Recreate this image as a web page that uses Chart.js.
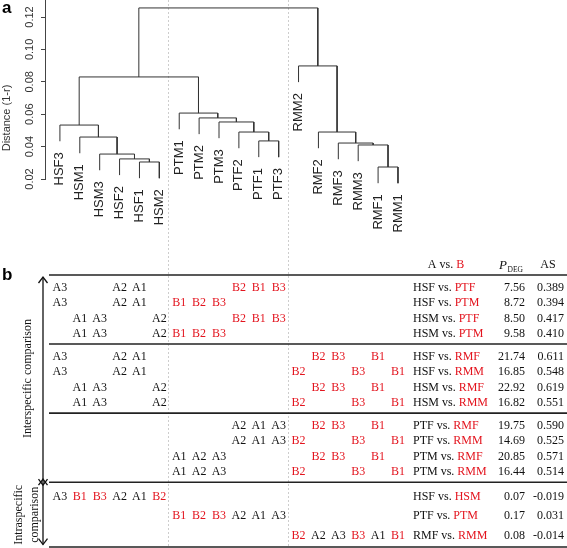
<!DOCTYPE html>
<html>
<head>
<meta charset="utf-8">
<script src="https://cdn.jsdelivr.net/npm/chart.js@4.4.1/dist/chart.umd.min.js"></script>
<style>
  html, body { margin: 0; padding: 0; background: #fff; }
  #wrap { position: relative; width: 567px; height: 548px; overflow: hidden; }
  #dendroChart { position: absolute; left: 0; top: 0; }
  #tableChart { position: absolute; left: 0; top: 240px; }
</style>
</head>
<body>
<div id="wrap">
  <canvas id="dendroChart" width="567" height="240"></canvas>
  <canvas id="tableChart" width="567" height="308"></canvas>
</div>
<script>
// ===== Panel a: hierarchical clustering =====
const leaves = ['HSF3', 'HSM1', 'HSM3', 'HSF2', 'HSF1', 'HSM2',
                'PTM1', 'PTM2', 'PTM3', 'PTF2', 'PTF1', 'PTF3',
                'RMM2', 'RMF2', 'RMF3', 'RMM3', 'RMF1', 'RMM1'];
// negative = leaf number, positive = earlier merge (R hclust style)
const mergeLeft   = [-5, -4, -3, -2, -1, -11, -10, -9, -8, -7, 5, -17, -16, -15, -14, -13, 11];
const mergeRight  = [-6,  1,  2,  3,  4, -12,   6,  7,  8,  9, 10, -18, 12, 13, 14, 15, 16];
const mergeHeight = [0.0305, 0.0324, 0.0354, 0.0459, 0.0533,
                     0.0435, 0.0490, 0.0552, 0.0577, 0.0607, 0.0830,
                     0.0274, 0.0410, 0.0422, 0.0490, 0.0898, 0.1256];
const yTicks = [0.02, 0.04, 0.06, 0.08, 0.10, 0.12];
const hang = 0.01;

// ===== Panel b: comparison table =====
const groupA = ['HSF', 'HSF', 'HSM', 'HSM', 'HSF', 'HSF', 'HSM', 'HSM',
                'PTF', 'PTF', 'PTM', 'PTM', 'HSF', 'PTF', 'RMF'];
const groupB = ['PTF', 'PTM', 'PTF', 'PTM', 'RMF', 'RMM', 'RMF', 'RMM',
                'RMF', 'RMM', 'RMF', 'RMM', 'HSM', 'PTM', 'RMM'];
const pDeg = [7.56, 8.72, 8.50, 9.58, 21.74, 16.85, 22.92, 16.82,
              19.75, 14.69, 20.85, 16.44, 0.07, 0.17, 0.08];
const asScore = [0.389, 0.394, 0.417, 0.410, 0.611, 0.548, 0.619, 0.551,
                 0.590, 0.525, 0.571, 0.514, -0.019, 0.031, -0.014];
const sectionSizes = [4, 4, 4, 3];

const RED = '#e3141e';
const INK = '#111';
const SANS = '"Liberation Sans", Arial, sans-serif';
const SERIF = '"Liberation Serif", "Times New Roman", serif';

// ----- dendrogram geometry from merges -----
const mergeX = [];
const leafParentH = new Array(leaves.length).fill(0);
const segments = [];
mergeHeight.forEach((h, k) => {
    const child = (c) => {
        if (c < 0) { leafParentH[-c - 1] = h; return { x: -c, y: h - hang }; }
        return { x: mergeX[c - 1], y: mergeHeight[c - 1] };
    };
    const l = child(mergeLeft[k]), r = child(mergeRight[k]);
    mergeX.push((l.x + r.x) / 2);
    segments.push([{ x: l.x, y: l.y }, { x: l.x, y: h }, { x: r.x, y: h }, { x: r.x, y: r.y }]);
});

// species boundaries (between leaf groups)
const speciesBreaks = [];
for (let i = 1; i < leaves.length; i++) {
    if (leaves[i].slice(0, 2) !== leaves[i - 1].slice(0, 2)) speciesBreaks.push(i + 0.5);
}

function drawSeparators(chart) {
    const { ctx } = chart;
    const xs = chart.scales.x;
    ctx.save();
    ctx.strokeStyle = '#cdcdcd';
    ctx.lineWidth = 1;
    ctx.setLineDash([2, 2]);
    speciesBreaks.forEach(v => {
        const px = Math.round(xs.getPixelForValue(v)) - 0.5;
        ctx.beginPath();
        ctx.moveTo(px, 0);
        ctx.lineTo(px, chart.height);
        ctx.stroke();
    });
    ctx.restore();
}

function rotText(ctx, text, x, y, align) {
    ctx.save();
    ctx.translate(x, y);
    ctx.rotate(-Math.PI / 2);
    ctx.textAlign = align;
    ctx.fillText(text, 0, 0);
    ctx.restore();
}

const dendroText = {
    id: 'dendroText',
    beforeDatasetsDraw(chart) { drawSeparators(chart); },
    afterDraw(chart) {
        const { ctx } = chart;
        const xs = chart.scales.x, ys = chart.scales.y;
        ctx.save();
        ctx.textBaseline = 'middle';
        ctx.fillStyle = '#333';
        ctx.font = '11px ' + SANS;
        yTicks.forEach(v => rotText(ctx, v.toFixed(2), 30, ys.getPixelForValue(v), 'center'));
        ctx.font = '11px ' + SANS;
        rotText(ctx, 'Distance (1-r)', 7, 118, 'center');

        ctx.fillStyle = '#222';
        ctx.font = '13px ' + SANS;
        leaves.forEach((name, i) => {
            const px = xs.getPixelForValue(i + 1);
            const py = ys.getPixelForValue(leafParentH[i] - hang) + 11;
            rotText(ctx, name, px, py, 'right');
        });

        ctx.fillStyle = '#000';
        ctx.font = 'bold 17px ' + SANS;
        ctx.textAlign = 'left';
        ctx.textBaseline = 'alphabetic';
        ctx.fillText('a', 2, 13);
        ctx.restore();
    }
};

new Chart(document.getElementById('dendroChart'), {
    type: 'scatter',
    data: {
        datasets: segments.map(pts => ({
            data: pts,
            showLine: true,
            borderColor: '#333',
            borderWidth: 1,
            pointRadius: 0,
            tension: 0,
            clip: false
        }))
    },
    options: {
        responsive: false,
        animation: false,
        events: [],
        layout: { padding: { left: 0, right: 0, top: 0, bottom: 61 } },
        plugins: { legend: { display: false }, tooltip: { enabled: false } },
        scales: {
            x: { type: 'linear', display: false, min: 0.25, max: 26.5 },
            y: {
                type: 'linear',
                position: 'left',
                min: 0.02,
                max: 0.1305,
                afterBuildTicks: (s) => { s.ticks = yTicks.map(v => ({ value: v })); },
                afterFit: (s) => { s.width = 45; },
                ticks: { display: false },
                grid: { drawOnChartArea: false, drawTicks: true, tickLength: 4, color: '#444' },
                border: { display: true, color: '#444', width: 1 }
            }
        }
    },
    plugins: [dendroText]
});

// ----- table layout (row units) -----
const rowY = [];
const ruleY = [0];
let cursor = 0;
sectionSizes.forEach((n, s) => {
    const intra = s === sectionSizes.length - 1;
    const padT = intra ? 0.97 : 0.8, step = intra ? 1.23 : 1.0, padB = intra ? 0.78 : 0.65;
    for (let k = 0; k < n; k++) rowY.push(cursor + padT + k * step);
    cursor += padT + (n - 1) * step + padB;
    ruleY.push(cursor);
});

const cells = [];
groupA.forEach((a, r) => {
    leaves.forEach((name, i) => {
        const g = name.slice(0, 3), rep = name.slice(3);
        if (g === a) cells.push({ x: i + 1, y: rowY[r], label: 'A' + rep, red: false });
        else if (g === groupB[r]) cells.push({ x: i + 1, y: rowY[r], label: 'B' + rep, red: true });
    });
});

function arrowHead(ctx, x, y, dir) {
    ctx.beginPath();
    ctx.moveTo(x - 4.5, y - dir * 6);
    ctx.lineTo(x, y);
    ctx.lineTo(x + 4.5, y - dir * 6);
    ctx.stroke();
}

const tableText = {
    id: 'tableText',
    beforeDatasetsDraw(chart) { drawSeparators(chart); },
    afterDraw(chart) {
        const { ctx } = chart;
        const ys = chart.scales.y;
        const W = chart.width;
        ctx.save();

        // rules
        ctx.strokeStyle = '#222';
        ctx.lineWidth = 1.6;
        ruleY.forEach(v => {
            const py = Math.min(ys.getPixelForValue(v), chart.height - 1);
            ctx.beginPath();
            ctx.moveTo(49, py);
            ctx.lineTo(W, py);
            ctx.stroke();
        });

        // cells
        ctx.textBaseline = 'middle';
        ctx.textAlign = 'center';
        ctx.font = '12px ' + SERIF;
        const meta = chart.getDatasetMeta(0);
        meta.data.forEach((el, j) => {
            const c = chart.data.datasets[0].data[j];
            ctx.fillStyle = c.red ? RED : INK;
            ctx.fillText(c.label, el.x, el.y);
        });

        // right columns
        const compX = 413, pRight = 525, asRight = 564;
        groupA.forEach((a, r) => {
            const py = ys.getPixelForValue(rowY[r]);
            ctx.textAlign = 'left';
            ctx.fillStyle = INK;
            const first = a + ' vs. ';
            ctx.fillText(first, compX, py);
            ctx.fillStyle = RED;
            ctx.fillText(groupB[r], compX + ctx.measureText(first).width, py);
            ctx.fillStyle = INK;
            ctx.textAlign = 'right';
            ctx.fillText(pDeg[r].toFixed(2), pRight, py);
            ctx.fillText(asScore[r].toFixed(3), asRight, py);
        });

        // header
        const hy = ys.getPixelForValue(-0.65);
        ctx.textAlign = 'left';
        ctx.fillStyle = INK;
        const hA = 'A vs. ';
        const hw = ctx.measureText(hA).width + ctx.measureText('B').width;
        ctx.fillText(hA, 446 - hw / 2, hy);
        ctx.fillStyle = RED;
        ctx.fillText('B', 446 - hw / 2 + ctx.measureText(hA).width, hy);
        ctx.fillStyle = INK;
        ctx.textBaseline = 'alphabetic';
        ctx.font = 'italic 13px ' + SERIF;
        ctx.fillText('P', 499, hy + 4.5);
        ctx.font = '7.5px ' + SERIF;
        ctx.fillText('DEG', 507.5, hy + 7);
        ctx.textBaseline = 'middle';
        ctx.font = '12px ' + SERIF;
        ctx.textAlign = 'center';
        ctx.fillText('AS', 548, hy);

        // arrows on the left
        const ax = 43;
        const top0 = ys.getPixelForValue(ruleY[0]);
        const mid = ys.getPixelForValue(ruleY[3]);
        const bot = Math.min(ys.getPixelForValue(ruleY[4]), chart.height);
        ctx.strokeStyle = '#111';
        ctx.lineWidth = 1.3;
        ctx.beginPath();
        ctx.moveTo(ax, top0 + 2); ctx.lineTo(ax, mid + 3);
        ctx.moveTo(ax, mid - 3); ctx.lineTo(ax, bot - 3);
        ctx.stroke();
        arrowHead(ctx, ax, top0 + 2, -1);
        arrowHead(ctx, ax, mid + 3, 1);
        arrowHead(ctx, ax, mid - 3, -1);
        arrowHead(ctx, ax, bot - 3, 1);

        ctx.fillStyle = INK;
        ctx.font = '12px ' + SERIF;
        ctx.textBaseline = 'middle';
        rotText(ctx, 'Interspecific comparison', 28, (top0 + mid) / 2, 'center');
        rotText(ctx, 'Intraspecific', 19, (mid + bot) / 2, 'center');
        rotText(ctx, 'comparison', 35, (mid + bot) / 2, 'center');

        // panel letter
        ctx.fillStyle = '#000';
        ctx.font = 'bold 17px ' + SANS;
        ctx.textAlign = 'left';
        ctx.textBaseline = 'alphabetic';
        ctx.fillText('b', 2, 40);
        ctx.restore();
    }
};

new Chart(document.getElementById('tableChart'), {
    type: 'scatter',
    data: {
        datasets: [{ data: cells, pointRadius: 0, showLine: false }]
    },
    options: {
        responsive: false,
        animation: false,
        events: [],
        layout: { padding: { left: 45, right: 0, top: 0, bottom: 0 } },
        plugins: { legend: { display: false }, tooltip: { enabled: false } },
        scales: {
            x: { type: 'linear', display: false, min: 0.25, max: 26.5 },
            y: { type: 'linear', display: false, reverse: true, min: -2.255, max: 17.59 }
        }
    },
    plugins: [tableText]
});
</script>
</body>
</html>
